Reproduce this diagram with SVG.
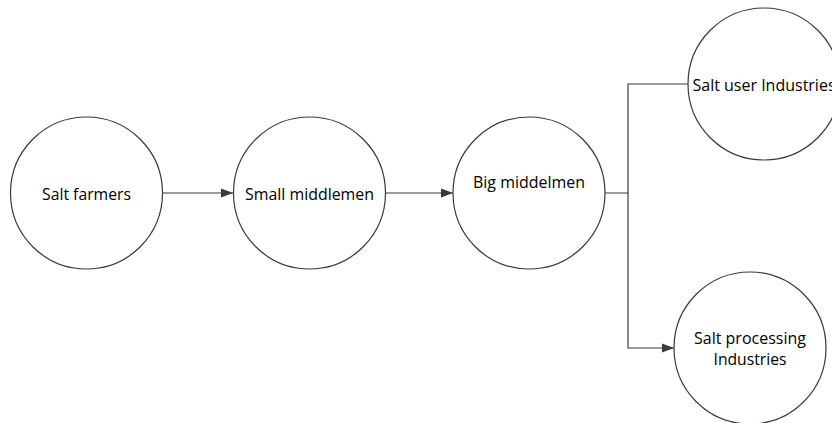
<svg xmlns="http://www.w3.org/2000/svg" width="832" height="423" viewBox="0 0 832 423">
<style>
.node circle{fill:#fff;stroke:#3a3a3a;stroke-width:1.2}
.node text{font-family:"Open Sans","Liberation Sans",sans-serif;font-size:15.5px;fill:#000;text-anchor:middle}
.edge{fill:none;stroke:#3a3a3a;stroke-width:1.2}
</style>
<defs>
<marker id="arr" viewBox="0 0 12 10" refX="12" refY="5" markerWidth="12" markerHeight="10" markerUnits="userSpaceOnUse" orient="auto">
<path d="M0,0.5 L12,5 L0,9.5 Z" fill="#3a3a3a"/>
</marker>
</defs>
<rect width="832" height="423" fill="#fff"/>
<g id="connectors">
<path class="edge" d="M163,193 H233" marker-end="url(#arr)"/>
<path class="edge" d="M386,193 H453" marker-end="url(#arr)"/>
<path class="edge" d="M605,193 H628 V84 H688"/>
<path class="edge" d="M628,193 V348 H674" marker-end="url(#arr)"/>
</g>
<g id="salt-farmers" class="node">
<circle cx="86.5" cy="193" r="76"/>
<text x="86.5" y="200" textLength="89" lengthAdjust="spacingAndGlyphs">Salt farmers</text>
</g>
<g id="small-middlemen" class="node">
<circle cx="309.5" cy="193" r="76"/>
<text x="309.5" y="200" textLength="129" lengthAdjust="spacingAndGlyphs">Small middlemen</text>
</g>
<g id="big-middelmen" class="node">
<circle cx="529" cy="193" r="76"/>
<text x="529" y="188" textLength="112" lengthAdjust="spacingAndGlyphs">Big middelmen</text>
</g>
<g id="salt-user-industries" class="node">
<circle cx="764" cy="84" r="76"/>
<text x="764" y="91" textLength="143" lengthAdjust="spacingAndGlyphs">Salt user Industries</text>
</g>
<g id="salt-processing-industries" class="node">
<circle cx="750" cy="348" r="76"/>
<text x="750" y="344" textLength="112" lengthAdjust="spacingAndGlyphs">Salt processing</text>
<text x="750" y="365" textLength="73" lengthAdjust="spacingAndGlyphs">Industries</text>
</g>
</svg>
